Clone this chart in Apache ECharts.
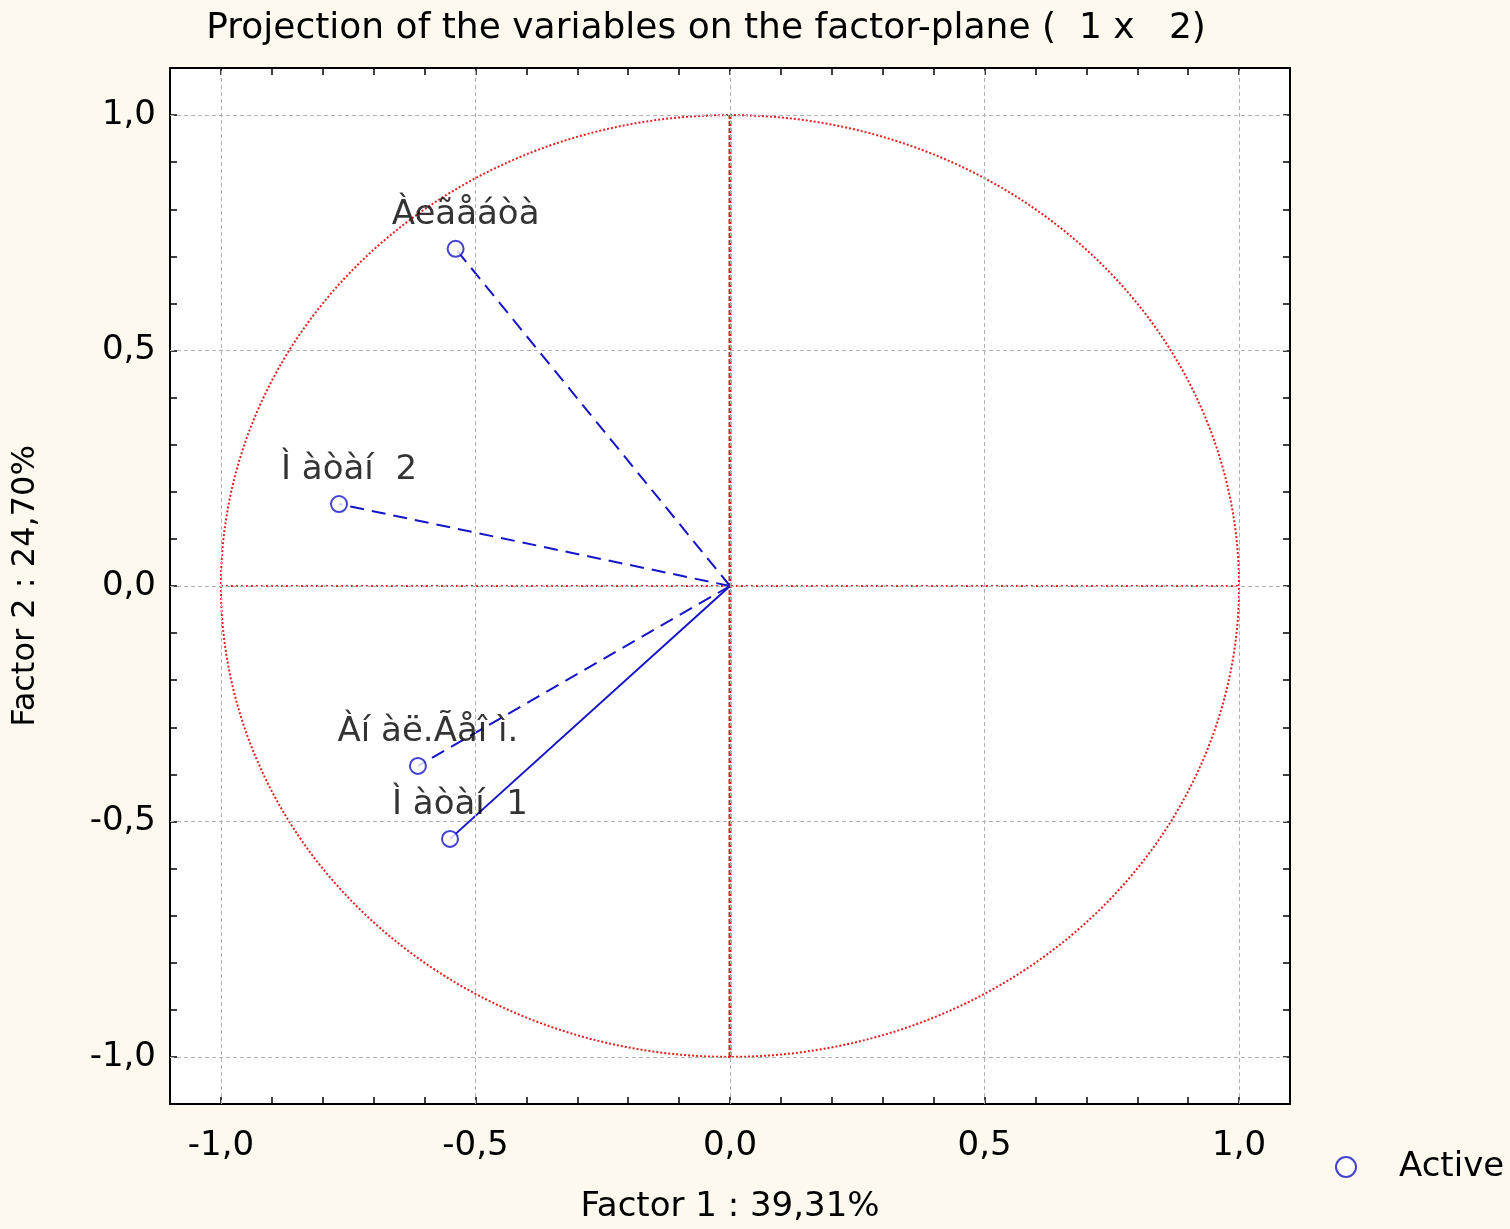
<!DOCTYPE html>
<html>
<head>
<meta charset="utf-8">
<script src="https://cdn.jsdelivr.net/npm/echarts@6/dist/echarts.min.js"></script>
<style>
html,body{margin:0;padding:0;background:#fdf9ef;}
#chart{width:1510px;height:1229px;}
</style>
</head>
<body>
<div id="chart"></div>
<script>
const varNames = ['Àeãåáòà', 'Ì àòàí  2', 'Àí àë.Ãåî ì.', 'Ì àòàí  1'];
const factor1 = [-0.539, -0.768, -0.613, -0.550];
const factor2 = [0.716, 0.174, -0.382, -0.537];
const tickValues = [-1.0, -0.5, 0.0, 0.5, 1.0];
const titleText = 'Projection of the variables on the factor-plane (  1 x   2)';
const xName = 'Factor 1 : 39,31%';
const yName = 'Factor 2 : 24,70%';
const legendName = 'Active';

const FONT = '"DejaVu Sans", Verdana, sans-serif';
const blue = '#1414c8';
const red = '#e02020';

function fmt(v) {
  if (Math.abs(v * 2 - Math.round(v * 2)) > 1e-6) return '';
  return (Math.round(v * 10) / 10).toFixed(1).replace('.', ',');
}

const axisCommon = {
  type: 'value', min: -1.1, max: 1.1, interval: 0.1,
  axisLine: { show: true, onZero: false, lineStyle: { color: '#000', width: 2 } },
  axisTick: { show: true, inside: true, length: 7, lineStyle: { color: '#000', width: 1.5 } },
  splitLine: { show: false }
};

const series = [];
// reference grid lines
series.push({
  type: 'line', data: [], silent: true, xAxisIndex: 0, yAxisIndex: 0,
  markLine: {
    silent: true, symbol: 'none', label: { show: false },
    lineStyle: { color: '#b0b0b0', type: [4, 3], width: 1 },
    data: tickValues.map(v => ({ xAxis: v })).concat(tickValues.map(v => ({ yAxis: v })))
  }
});
// unit circle and cross through the origin
series.push({
  type: 'custom', silent: true, xAxisIndex: 0, yAxisIndex: 0,
  data: [[0, 0]],
  renderItem: function (params, api) {
    const pts = [];
    for (let i = 0; i <= 360; i++) {
      const t = i * Math.PI / 180;
      pts.push(api.coord([Math.cos(t), Math.sin(t)]));
    }
    const st = { stroke: red, lineWidth: 2, lineDash: [2, 2], fill: null };
    const a = api.coord([-1, 0]), b = api.coord([1, 0]);
    const c = api.coord([0, -1]), d = api.coord([0, 1]);
    return {
      type: 'group', children: [
        { type: 'polyline', shape: { points: pts }, style: st },
        { type: 'line', shape: { x1: a[0], y1: a[1], x2: b[0], y2: b[1] }, style: { stroke: red, lineWidth: 2, lineDash: [2, 3] } },
        { type: 'line', shape: { x1: c[0], y1: c[1], x2: d[0], y2: d[1] }, style: { stroke: red, lineWidth: 3, lineDash: [5, 2] } }
      ]
    };
  }
});
// vectors
varNames.forEach((n, i) => {
  series.push({
    type: 'line', silent: true, showSymbol: false, symbol: 'none',
    data: [[0, 0], [factor1[i], factor2[i]]],
    lineStyle: { color: blue, width: 2, type: i === 3 ? 'solid' : [14, 8] },
    z: 3
  });
});
// points
series.push({
  name: legendName, type: 'scatter', symbol: 'emptyCircle', symbolSize: 16,
  itemStyle: { color: blue, borderColor: blue, borderWidth: 2 },
  data: varNames.map((n, i) => ({ value: [factor1[i], factor2[i]], name: n })),
  label: {
    show: true, position: 'top', distance: 8, offset: [10, 0],
    formatter: p => p.name, color: '#000', fontSize: 34, fontFamily: FONT
  },
  z: 5
});

const chart = echarts.init(document.getElementById('chart'));
chart.setOption({
  backgroundColor: '#fdf9ef',
  animation: false,
  title: {
    text: titleText, left: 701, textAlign: 'center', top: 6,
    textStyle: { fontSize: 36, fontWeight: 'normal', color: '#000', fontFamily: FONT }
  },
  legend: {
    data: [{ name: legendName, icon: 'emptyCircle' }],
    left: 1330, top: 1145, itemWidth: 20, itemHeight: 20,
    textStyle: { fontSize: 34, color: '#000', fontFamily: FONT, padding: [0, 0, 0, 38] }
  },
  grid: {
    left: 170, top: 68, width: 1120, height: 1036,
    outerBoundsMode: 'none', containLabel: false,
    show: true, backgroundColor: '#ffffff', borderColor: '#000', borderWidth: 2
  },
  xAxis: [
    Object.assign({}, axisCommon, {
      position: 'bottom', name: xName, nameLocation: 'middle', nameGap: 86,
      nameTextStyle: { fontSize: 34, color: '#000', fontFamily: FONT },
      axisLabel: { formatter: fmt, fontSize: 34, color: '#000', margin: 25, fontFamily: FONT, showMinLabel: true, showMaxLabel: true }
    }),
    Object.assign({}, axisCommon, { position: 'top', axisLabel: { show: false } })
  ],
  yAxis: [
    Object.assign({}, axisCommon, {
      position: 'left', name: yName, nameLocation: 'middle', nameGap: 128,
      nameTextStyle: { fontSize: 32, color: '#000', fontFamily: FONT },
      axisLabel: { formatter: fmt, fontSize: 34, color: '#000', margin: 14, fontFamily: FONT }
    }),
    Object.assign({}, axisCommon, { position: 'right', axisLabel: { show: false } })
  ],
  series: series
});
</script>
</body>
</html>
